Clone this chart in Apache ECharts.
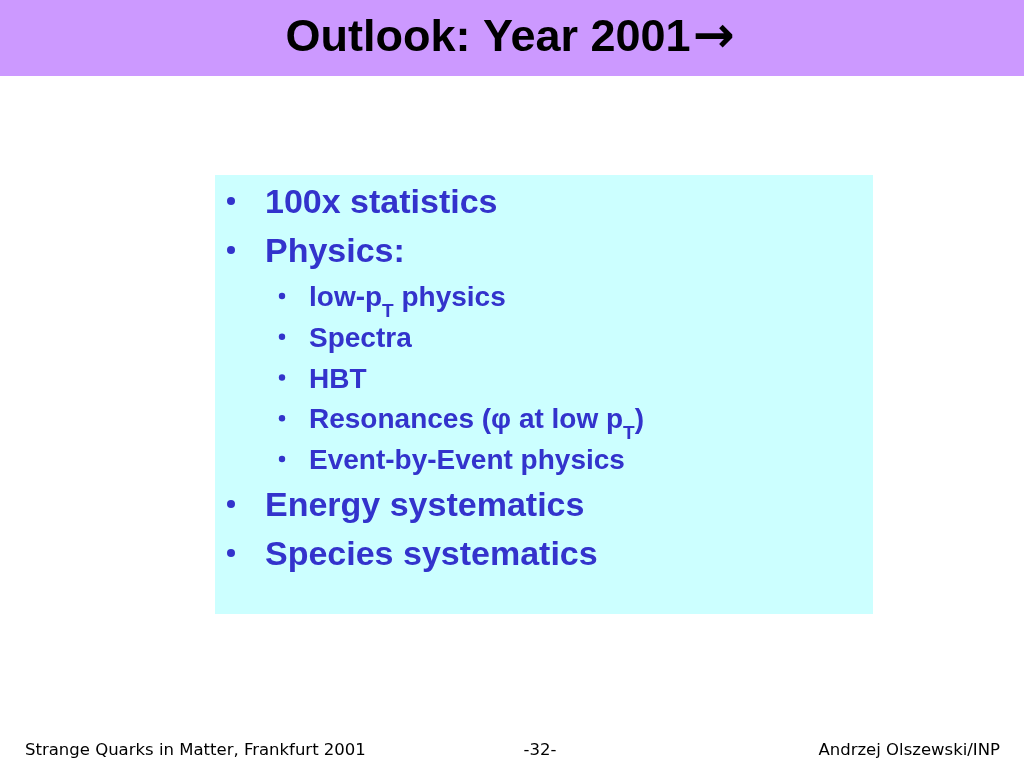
<!DOCTYPE html>
<html>
<head>
<meta charset="utf-8">
<script src="https://cdn.jsdelivr.net/npm/echarts@6/dist/echarts.min.js"></script>
<style>
html,body{margin:0;padding:0;background:#ffffff;}
#main{width:1024px;height:768px;}
</style>
</head>
<body>
<div id="main"></div>
<script>
// Slide content
const titleText = '{t|Outlook: Year 2001}{a|\u2192}';
const itemTexts = [
  '{t|100x statistics}',
  '{t|Physics:}',
  '{t|low-p}{s|T}{t| physics}',
  '{t|Spectra}',
  '{t|HBT}',
  '{t|Resonances (\u03c6 at low p}{s|T}{t|)}',
  '{t|Event-by-Event physics}',
  '{t|Energy systematics}',
  '{t|Species systematics}'
];
const itemLevels = [1, 1, 2, 2, 2, 2, 2, 1, 1];
const footerTexts = ['Strange Quarks in Matter, Frankfurt 2001', '-32-', 'Andrzej Olszewski/INP'];

const chart = echarts.init(document.getElementById('main'), null, {renderer: 'canvas'});

const blue = '#3333CC';
const gaps = {'11': 49, '12': 46, '22': 40.75, '21': 45};
const levelStyle = {
  1: {dotX: 231, dotR: 4, textX: 265, size: 34, sub: 23},
  2: {dotX: 282, dotR: 3.2, textX: 309, size: 28, sub: 19}
};
const ff = '"Liberation Sans", Arial, sans-serif';

const elements = [];
// header bar
elements.push({type: 'rect', shape: {x: 0, y: 0, width: 1024, height: 76}, style: {fill: '#CC99FF'}, silent: true});
elements.push({type: 'text', x: 510, y: 39, style: {
  text: titleText, textAlign: 'center', textVerticalAlign: 'middle',
  rich: {
    t: {fontFamily: ff, fontWeight: 'bold', fontSize: 45, fill: '#000000', lineHeight: 54, verticalAlign: 'middle'},
    a: {fontFamily: '"DejaVu Sans", sans-serif', fontWeight: 'bold', fontSize: 50, fill: '#000000', lineHeight: 54, verticalAlign: 'middle', padding: [0, 0, 0, 2]}
  }
}});
// content box
elements.push({type: 'rect', shape: {x: 215, y: 175, width: 658, height: 439}, style: {fill: '#CCFFFF'}, silent: true});

let y = 201;
itemTexts.forEach(function (txt, i) {
  const lv = itemLevels[i];
  if (i > 0) y += gaps['' + itemLevels[i - 1] + lv];
  const st = levelStyle[lv];
  elements.push({type: 'circle', shape: {cx: st.dotX, cy: y, r: st.dotR}, style: {fill: blue}});
  elements.push({
    type: 'text', x: st.textX, y: y + 2.5,
    style: {
      text: txt,
      textAlign: 'left',
      textVerticalAlign: 'middle',
      rich: {
        t: {fontFamily: ff, fontWeight: 'bold', fontSize: st.size, fill: blue, lineHeight: st.size * 1.2, verticalAlign: 'middle'},
        s: {fontFamily: ff, fontWeight: 'bold', fontSize: st.sub, fill: blue, lineHeight: st.size * 1.2, verticalAlign: 'bottom', padding: [0, 0, -st.size * 0.2, 0]}
      }
    }
  });
});

// footer
const footerFont = '16.5px "DejaVu Sans", sans-serif';
elements.push({type: 'text', x: 25, y: 751, style: {text: footerTexts[0], fill: '#000000', font: footerFont, textAlign: 'left', textVerticalAlign: 'middle'}});
elements.push({type: 'text', x: 540, y: 751, style: {text: footerTexts[1], fill: '#000000', font: footerFont, textAlign: 'center', textVerticalAlign: 'middle'}});
elements.push({type: 'text', x: 1000, y: 751, style: {text: footerTexts[2], fill: '#000000', font: footerFont, textAlign: 'right', textVerticalAlign: 'middle'}});

chart.setOption({
  backgroundColor: '#ffffff',
  animation: false,
  graphic: {elements: elements}
});
</script>
</body>
</html>
